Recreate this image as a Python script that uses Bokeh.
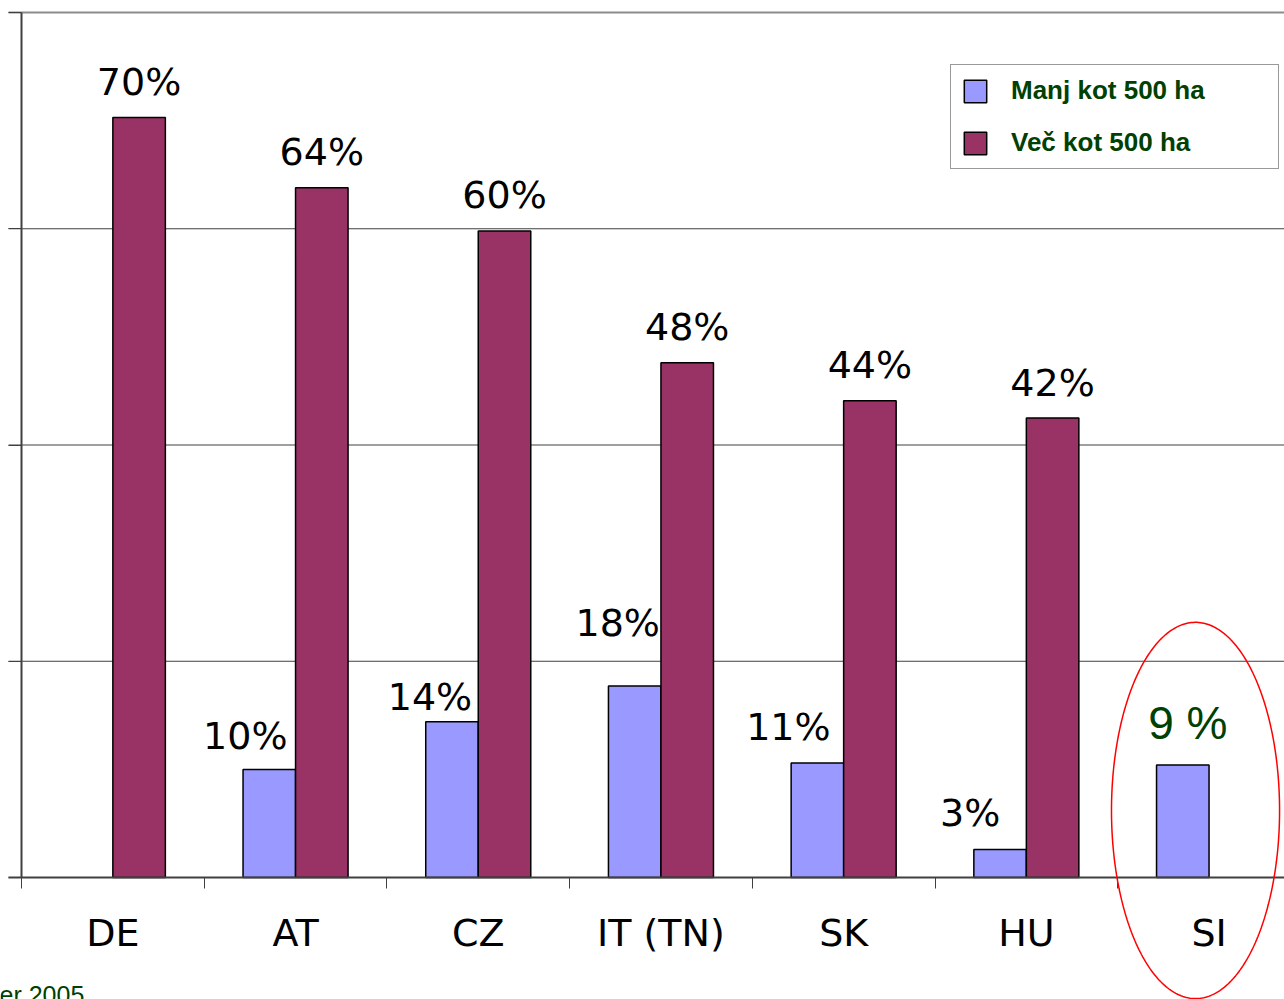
import numpy as np
from bokeh.plotting import figure
from bokeh.models import (ColumnDataSource, FixedTicker, Range1d, Legend, LegendItem,
                          PolyAnnotation, Label, LinearAxis, BoxAnnotation)
from bokeh.core.properties import value
from bokeh.embed import file_html
from bokeh.resources import INLINE

# ---- data ----
countries = ["DE", "AT", "CZ", "IT (TN)", "SK", "HU", "SI"]
small_vals = [None, 10.0, 14.4, 17.7, 10.6, 2.6, 10.4]
large_vals = [70.3, 63.8, 59.8, 47.6, 44.1, 42.5, None]
small_labels = ["", "10%", "14%", "18%", "11%", "3%", "9 %"]
large_labels = ["70%", "64%", "60%", "48%", "44%", "42%", ""]
series_names = ["Manj kot 500 ha", "Več kot 500 ha"]
y_ticks = [0, 20, 40, 60, 80]
source_note = "er 2005"

# ---- styles / layout ----
W, H = 1284, 999
PX_X = 182.7      # pixels per category
PX_Y = 10.8125    # pixels per percent
AX_L, AX_B, AX_T = 21, 877, 12   # axis positions in pixels
SMALL_COLOR = "#9999FF"
LARGE_COLOR = "#993366"
GREEN = "#004000"
AXC = "#404040"
BW = 0.2874
FS = 38
small_dx = [0, -24, -22, -17, -29, -30, 5]
small_dy = [0, -19, -10, -49, -21, -22, -25]
big_dy = -21
BASE_FIX = 0.38  # svg text baseline correction (fraction of font size)

n = len(countries)
x0 = -AX_L / PX_X
x1 = (W - AX_L) / PX_X
y0 = -(H - AX_B) / PX_Y
y1 = y_ticks[-1] + AX_T / PX_Y

p = figure(width=W, height=H, x_range=Range1d(x0, x1), y_range=Range1d(y0, y1),
           output_backend="svg", toolbar_location=None,
           min_border_left=0, min_border_right=0, min_border_top=0, min_border_bottom=0,
           x_axis_type=None, y_axis_type=None)
p.outline_line_color = None
p.xgrid.visible = False
p.ygrid.visible = False

# gridlines (start where the y ticks start)
gx = -13 / PX_X
p.ray(x=[gx] * 3, y=y_ticks[1:4], length=0, angle=0, line_color=AXC, line_width=1)
p.ray(x=[gx], y=[y_ticks[-1]], length=0, angle=0, line_color="#8c8c8c", line_width=2)

si = [i for i in range(n) if small_vals[i] is not None]
li = [i for i in range(n) if large_vals[i] is not None]
src_s = ColumnDataSource(dict(x=[i + 0.5 - BW / 2 for i in si], top=[small_vals[i] for i in si]))
src_l = ColumnDataSource(dict(x=[i + 0.5 + BW / 2 for i in li], top=[large_vals[i] for i in li]))
r_s = p.vbar(x="x", top="top", bottom=0, width=BW, source=src_s, fill_color=SMALL_COLOR,
             line_color="black", line_width=1.5)
r_l = p.vbar(x="x", top="top", bottom=0, width=BW, source=src_l, fill_color=LARGE_COLOR,
             line_color="black", line_width=1.5)

xaxis = LinearAxis(
    ticker=FixedTicker(ticks=[i + 0.5 for i in range(n)], minor_ticks=list(range(n + 1))),
    major_label_overrides={i + 0.5: c for i, c in enumerate(countries)},
    fixed_location=0, bounds=(gx, x1),
    major_tick_out=0, major_tick_in=0, minor_tick_out=11, minor_tick_in=0,
    minor_tick_line_color=AXC, axis_line_color=AXC, axis_line_width=2,
    major_label_text_font="DejaVu Sans", major_label_text_font_size=f"{FS}px",
    major_label_text_color="black", major_label_standoff=22)
p.add_layout(xaxis, "below")

yaxis = LinearAxis(
    ticker=FixedTicker(ticks=y_ticks),
    major_label_overrides={t: "" for t in y_ticks},
    fixed_location=0, bounds=(0, y_ticks[-1]),
    major_label_text_font_size="0px", major_label_standoff=0,
    major_tick_out=13, major_tick_in=0, minor_tick_out=0, minor_tick_in=0,
    major_tick_line_color=AXC, axis_line_color=AXC, axis_line_width=2)
p.add_layout(yaxis, "left")

# value labels
lab_l = ColumnDataSource(dict(x=[i + 0.5 + BW / 2 for i in li], y=[large_vals[i] for i in li],
                              t=[large_labels[i] for i in li]))
p.text(x="x", y="y", text="t", source=lab_l, x_offset=0, y_offset=big_dy - BASE_FIX * FS,
       text_font=value("DejaVu Sans"), text_font_size=f"{FS}px", text_align="center",
       text_baseline="alphabetic", text_color="black")
si_norm = [i for i in si if i != n - 1]
lab_s = ColumnDataSource(dict(x=[i + 0.5 - BW / 2 for i in si_norm], y=[small_vals[i] for i in si_norm],
                              t=[small_labels[i] for i in si_norm],
                              dx=[small_dx[i] for i in si_norm],
                              dy=[small_dy[i] - BASE_FIX * FS for i in si_norm]))
p.text(x="x", y="y", text="t", source=lab_s, x_offset="dx", y_offset="dy",
       text_font=value("DejaVu Sans"), text_font_size=f"{FS}px", text_align="center",
       text_baseline="alphabetic", text_color="black")
lab_si = ColumnDataSource(dict(x=[n - 0.5 - BW / 2], y=[small_vals[n - 1]], t=[small_labels[n - 1]],
                               dx=[small_dx[n - 1]], dy=[small_dy[n - 1] - BASE_FIX * 46]))
p.text(x="x", y="y", text="t", source=lab_si, x_offset="dx", y_offset="dy",
       text_font=value("Liberation Sans"), text_font_size="46px", text_align="center",
       text_baseline="alphabetic", text_color=GREEN)

# red ellipse highlight around SI
t = np.linspace(0, 2 * np.pi, 300)
p.add_layout(PolyAnnotation(xs=list(6.426 + 0.46 * np.cos(t)), ys=list(6.2 + 17.4 * np.sin(t)),
                            fill_color=None, fill_alpha=0, line_color="red", line_alpha=1,
                            line_width=1.5))

legend = Legend(items=[LegendItem(label=series_names[0], renderers=[r_s]),
                       LegendItem(label=series_names[1], renderers=[r_l])],
                location=(950, H - 169), padding=10, spacing=21, glyph_width=28, glyph_height=28,
                label_standoff=22, label_height=24, label_width=257,
                label_text_font="Liberation Sans", label_text_font_size="26px",
                label_text_font_style="bold", label_text_color=GREEN,
                border_line_color="#333333", border_line_width=1, background_fill_alpha=1)
p.add_layout(legend)

# gap in the legend's bottom border, as in the original
p.add_layout(BoxAnnotation(left=(990 - AX_L) / PX_X, right=(1248 - AX_L) / PX_X,
                           top=(AX_B - 166) / PX_Y, bottom=(AX_B - 172) / PX_Y,
                           fill_color="white", fill_alpha=1, line_color=None, level="overlay"))

p.add_layout(Label(x=-22 / PX_X, y=(AX_B - 980) / PX_Y, text=source_note, text_font="Liberation Sans",
                   text_font_size="25px", text_color=GREEN, text_baseline="top"))

open("out.html", "w").write(file_html(p, INLINE))
